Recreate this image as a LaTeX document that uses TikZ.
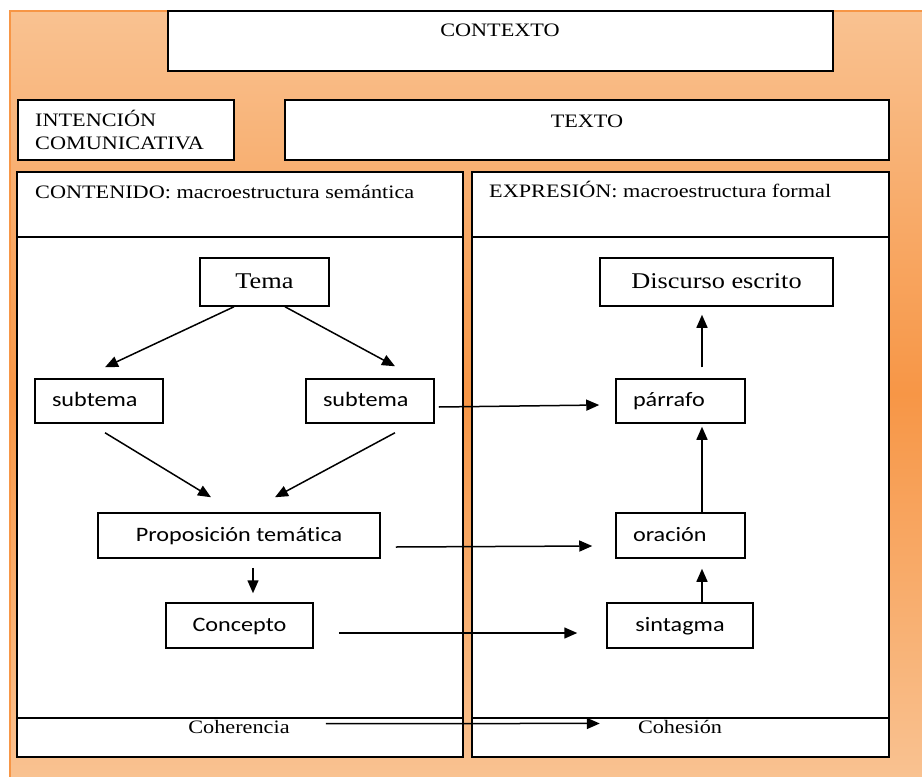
\documentclass[tikz,border=0pt]{standalone}
\usepackage{fontspec}
\setmainfont{Liberation Serif}[FakeStretch=1.17]
\newfontfamily\sansf{Carlito}[FakeStretch=1.18, Ligatures=NoCommon]
\usetikzlibrary{arrows.meta,calc}
\definecolor{peach}{HTML}{F9C291}
\definecolor{deeporange}{HTML}{F79646}
\begin{document}
\begin{tikzpicture}[x=1pt,y=-1pt,
  frame/.style={draw=black, line width=1.5pt, fill=white, inner sep=0pt},
  box/.style={frame, font=\sansf\fontsize{20.5}{24}\selectfont, text height=15pt, text depth=4pt},
  lbox/.style={box, align=left, inner xsep=17pt},
  sbox/.style={frame, font=\fontsize{22.5}{26}\selectfont, text height=16.5pt, text depth=4.5pt},
  txt/.style={inner sep=0pt, font=\fontsize{19}{23}\selectfont},
  rule/.style={draw=black, line width=1.5pt},
  arr/.style={line width=1.5pt, -{Triangle[length=13pt,width=11pt]}}
]
% page and orange background
\useasboundingbox (0,0) rectangle (922,777);
\shade[top color=peach, bottom color=peach, middle color=deeporange] (10,11) rectangle (922,777);
\draw[deeporange, line width=1.5pt] (922,11) -- (10,11) -- (10,777);

% top boxes
\node[frame, minimum width=665pt, minimum height=60pt] (ctx) at (500.5,41) {};
\node[txt, anchor=base] (ctxt) at (500,36) {CONTEXTO};
\node[frame, minimum width=216pt, minimum height=60pt] (int) at (126,130) {};
\node[txt, anchor=base west] (intA) at (35,126) {INTENCIÓN};
\node[txt, anchor=base west] (intB) at (35,149) {COMUNICATIVA};
\node[frame, minimum width=604pt, minimum height=60pt] (tex) at (587,130) {};
\node[txt, anchor=base] (text) at (587,127) {TEXTO};

% the two panels
\node[frame, minimum width=446pt, minimum height=585pt] (cont) at (240,464.5) {};
\node[frame, minimum width=417pt, minimum height=585pt] (expr) at (680.5,464.5) {};
\draw[rule] (cont.west |- 0,237) -- (cont.east |- 0,237);
\draw[rule] (cont.west |- 0,718) -- (cont.east |- 0,718);
\draw[rule] (expr.west |- 0,237) -- (expr.east |- 0,237);
\draw[rule] (expr.west |- 0,718) -- (expr.east |- 0,718);
\node[txt, anchor=base west] (conth) at (35,198) {CONTENIDO: macroestructura semántica};
\node[txt, anchor=base west] (exprh) at (489,197) {EXPRESIÓN: macroestructura formal};
\node[txt, anchor=base] (coh) at (239,733) {Coherencia};
\node[txt, anchor=base] (ces) at (680,733) {Cohesión};

% content side
\node[sbox, minimum width=129pt, minimum height=48pt] (tema) at (264.5,282) {Tema};
\node[lbox, text width=94pt, minimum height=44pt] (subL) at (99,401) {subtema};
\node[lbox, text width=94pt, minimum height=44pt] (subR) at (370,401) {subtema};
\node[box, minimum width=282pt, minimum height=45pt] (prop) at (239,535.5) {Proposición temática};
\node[box, minimum width=147pt, minimum height=45pt] (conc) at (239.5,625.5) {Concepto};

% expression side
\node[sbox, minimum width=233pt, minimum height=48pt] (disc) at (716.5,282) {Discurso escrito};
\node[lbox, text width=95pt, minimum height=44pt] (parr) at (680.5,401) {párrafo};
\node[lbox, text width=95pt, minimum height=45pt] (orac) at (680.5,535.5) {oración};
\node[box, minimum width=146pt, minimum height=45pt] (sint) at (680,625.5) {sintagma};

% connectors
\draw[arr] ($(tema.south)+(-30.5,0)$) -- ($(subL.north)+(6,-11)$);
\draw[arr] ($(tema.south)+(20.5,0)$) -- ($(subR.north)+(25,-12)$);
\draw[arr] ($(subL.south)+(6,9)$) -- ($(prop.north)+(-28,-15)$);
\draw[arr] ($(subR.south)+(25,9)$) -- ($(prop.north)+(36,-15)$);
\draw[arr] ($(prop.south)+(14,9)$) -- ($(conc.north)+(13.5,-9)$);
\draw[arr] ($(subR.east)+(4,6)$) -- ($(parr.west)+(-16,4)$);
\draw[arr] ($(prop.east)+(15,11.5)$) -- ($(orac.west)+(-23,10.5)$);
\draw[arr] ($(conc.east)+(25,7.5)$) -- ($(sint.west)+(-29,7.5)$);
\draw[arr] ($(parr.north)+(21.5,-11)$) -- ($(disc.south)+(-14.5,8)$);
\draw[arr] ($(orac.north)+(21.5,0)$) -- ($(parr.south)+(21.5,3)$);
\draw[arr] ($(sint.north)+(22,0)$) -- ($(orac.south)+(21.5,10)$);
\draw[arr] ($(coh.east)+(36,-3)$) -- ($(ces.west)+(-38,-3)$);
\end{tikzpicture}
\end{document}
